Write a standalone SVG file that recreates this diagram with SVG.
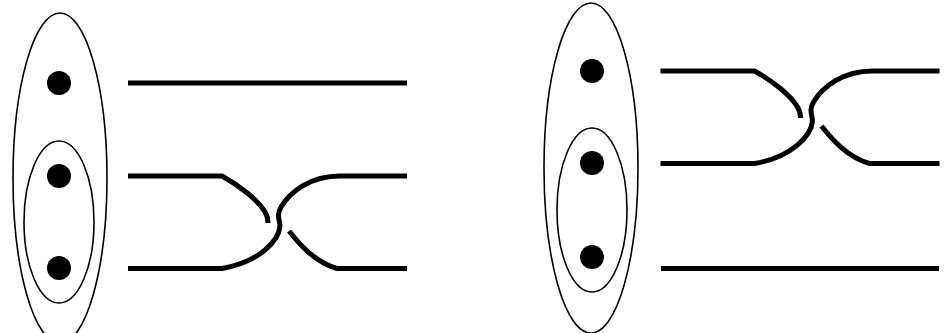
<svg xmlns="http://www.w3.org/2000/svg" width="948" height="333" viewBox="0 0 948 333">
<style>
.ring{fill:none;stroke:#000;stroke-width:1.6}
.dot{fill:#000}
.str{fill:none;stroke:#000;stroke-width:5;stroke-linecap:butt;stroke-linejoin:round}
</style>
<defs>
<g id="cross">
<path class="str" d="M128,176 H222 C240,186 258,200 265,212 C268,217 268,220 268,223"/>
<path class="str" d="M407,176 H340 C310,176 290,192 281,207 C276,216 280,220 280,226 C279,240 260,262 222,268.5 H128"/>
<path class="str" d="M289,231 C300,245 315,262 337,268.5 H407"/>
</g>
</defs>
<g id="left-group">
<ellipse class="ring" cx="60" cy="178" rx="47" ry="165"/>
<ellipse class="ring" cx="59" cy="222" rx="35" ry="81"/>
<circle class="dot" cx="59" cy="83" r="12"/>
<circle class="dot" cx="59" cy="176" r="12"/>
<circle class="dot" cx="59" cy="268" r="12"/>
</g>
<g id="right-group">
<ellipse class="ring" cx="591" cy="168" rx="47" ry="165"/>
<ellipse class="ring" cx="592" cy="210" rx="35" ry="82"/>
<circle class="dot" cx="592" cy="71" r="12"/>
<circle class="dot" cx="592" cy="163" r="12"/>
<circle class="dot" cx="592" cy="257" r="12"/>
</g>
<g id="connectors">
<path class="str" d="M128,83 H407"/>
<use href="#cross"/>
<use href="#cross" transform="translate(532.5,-105)"/>
<path class="str" d="M661,268.5 H939"/>
</g>
</svg>
